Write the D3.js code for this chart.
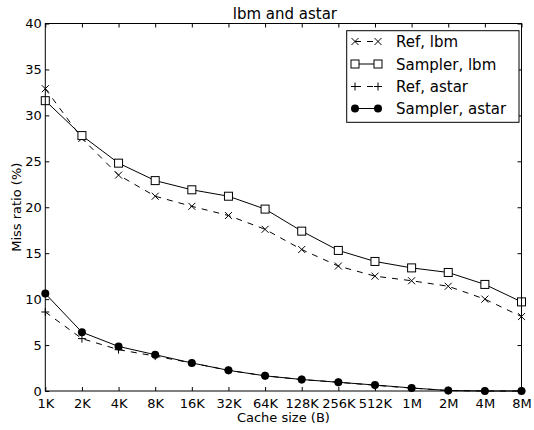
<!DOCTYPE html>
<html><head><meta charset="utf-8">
<script src="https://cdn.jsdelivr.net/npm/d3@7"></script>
<style>body{margin:0;background:#fff}svg{display:block}text{font-family:"DejaVu Sans",sans-serif;fill:#000}</style>
</head><body>
<script>
const categories = ["1K","2K","4K","8K","16K","32K","64K","128K","256K","512K","1M","2M","4M","8M"];
const refLbm      = [32.9,27.5,23.5,21.2,20.1,19.1,17.6,15.4,13.6,12.5,12.0,11.4,10.0,8.1];
const samplerLbm  = [31.6,27.8,24.8,22.9,21.9,21.2,19.8,17.4,15.3,14.1,13.4,12.9,11.6,9.7];
const refAstar    = [8.6,5.7,4.5,3.8,3.05,2.25,1.65,1.25,0.95,0.62,0.32,0.05,0,0];
const samplerAstar= [10.6,6.4,4.85,3.95,3.05,2.25,1.65,1.25,0.95,0.65,0.33,0.05,0,0];
const yTicks = [0,5,10,15,20,25,30,35,40];
const seriesNames = ["Ref, lbm","Sampler, lbm","Ref, astar","Sampler, astar"];

const W=534,H=430;
const L=45.3,R=521.5,T=23.5,B=391;
const svg=d3.select("body").append("svg").attr("width",W).attr("height",H);
const x=d3.scalePoint().domain(categories).range([L,R]);
const y=d3.scaleLinear().domain([0,40]).range([B,T]);

const series=[
  {name:seriesNames[0],vals:refLbm,dash:"6,6",marker:"x"},
  {name:seriesNames[1],vals:samplerLbm,dash:null,marker:"square"},
  {name:seriesNames[2],vals:refAstar,dash:"6,6",marker:"plus"},
  {name:seriesNames[3],vals:samplerAstar,dash:null,marker:"circle"}
];

// axes
const gb=svg.append("g").attr("transform",`translate(0,${B})`)
  .call(d3.axisBottom(x).tickSize(-4).tickSizeOuter(0).tickPadding(7.5));
const gt=svg.append("g").attr("transform",`translate(0,${T})`)
  .call(d3.axisTop(x).tickSize(-4).tickSizeOuter(0).tickFormat(""));
const gl=svg.append("g").attr("transform",`translate(${L},0)`)
  .call(d3.axisLeft(y).tickValues(yTicks).tickSize(-4).tickSizeOuter(0).tickPadding(3.5));
const gr=svg.append("g").attr("transform",`translate(${R},0)`)
  .call(d3.axisRight(y).tickValues(yTicks).tickSize(-4).tickSizeOuter(0).tickFormat(""));
[gb,gt,gl,gr].forEach(g=>{
  g.select(".domain").remove();
  g.selectAll(".tick line").attr("stroke","#000");
  g.selectAll(".tick text").style("font-family","DejaVu Sans").style("font-size","13px").attr("fill","#000");
});

function drawMarker(g,type,cx,cy){
  if(type==="square"){
    g.append("rect").attr("x",cx-4).attr("y",cy-4).attr("width",8).attr("height",8)
      .attr("fill","#fff").attr("stroke","#000").attr("stroke-width",1);
  } else if(type==="circle"){
    g.append("circle").attr("cx",cx).attr("cy",cy).attr("r",4).attr("fill","#000");
  } else if(type==="x"){
    const s=3.5;
    g.append("path").attr("d",`M${cx-s},${cy-s}L${cx+s},${cy+s}M${cx-s},${cy+s}L${cx+s},${cy-s}`)
      .attr("stroke","#000").attr("stroke-width",1).attr("fill","none");
  } else if(type==="plus"){
    const s=4;
    g.append("path").attr("d",`M${cx-s},${cy}L${cx+s},${cy}M${cx},${cy-s}L${cx},${cy+s}`)
      .attr("stroke","#000").attr("stroke-width",1).attr("fill","none");
  }
}

const plot=svg.append("g");
const line=d3.line().x((d,i)=>x(categories[i])).y(d=>y(d));
series.forEach(s=>{
  plot.append("path").datum(s.vals).attr("d",line).attr("fill","none")
    .attr("stroke","#000").attr("stroke-width",1).attr("stroke-dasharray",s.dash);
});
series.forEach(s=>{
  const g=plot.append("g");
  s.vals.forEach((v,i)=>drawMarker(g,s.marker,x(categories[i]),y(v)));
});

// frame
svg.append("rect").attr("x",L).attr("y",T).attr("width",R-L).attr("height",B-T)
  .attr("fill","none").attr("stroke","#000").attr("stroke-width",1);

// title and labels
svg.append("text").attr("x",(L+R)/2+1.5).attr("y",18.7).attr("text-anchor","middle")
  .style("font-size","15px").text("lbm and astar");
svg.append("text").attr("x",(L+R)/2).attr("y",421.5).attr("text-anchor","middle")
  .style("font-size","13px").text("Cache size (B)");
svg.append("text").attr("transform",`translate(21,${(T+B)/2}) rotate(-90)`).attr("text-anchor","middle")
  .style("font-size","13px").text("Miss ratio (%)");

// legend
const lg=svg.append("g");
lg.append("rect").attr("x",346.7).attr("y",30.7).attr("width",519-346.7).attr("height",122.3-30.7)
  .attr("fill","#fff").attr("stroke","#000").attr("stroke-width",1);
const rowY=[41.5,64,86.5,108.5];
series.forEach((s,i)=>{
  const yy=rowY[i];
  lg.append("line").attr("x1",355).attr("x2",378).attr("y1",yy).attr("y2",yy)
    .attr("stroke","#000").attr("stroke-width",1).attr("stroke-dasharray",s.dash);
  drawMarker(lg,s.marker,355,yy);
  drawMarker(lg,s.marker,378,yy);
  lg.append("text").attr("x",396).attr("y",yy+5.5).style("font-size","15px").text(s.name);
});
</script>
</body></html>
